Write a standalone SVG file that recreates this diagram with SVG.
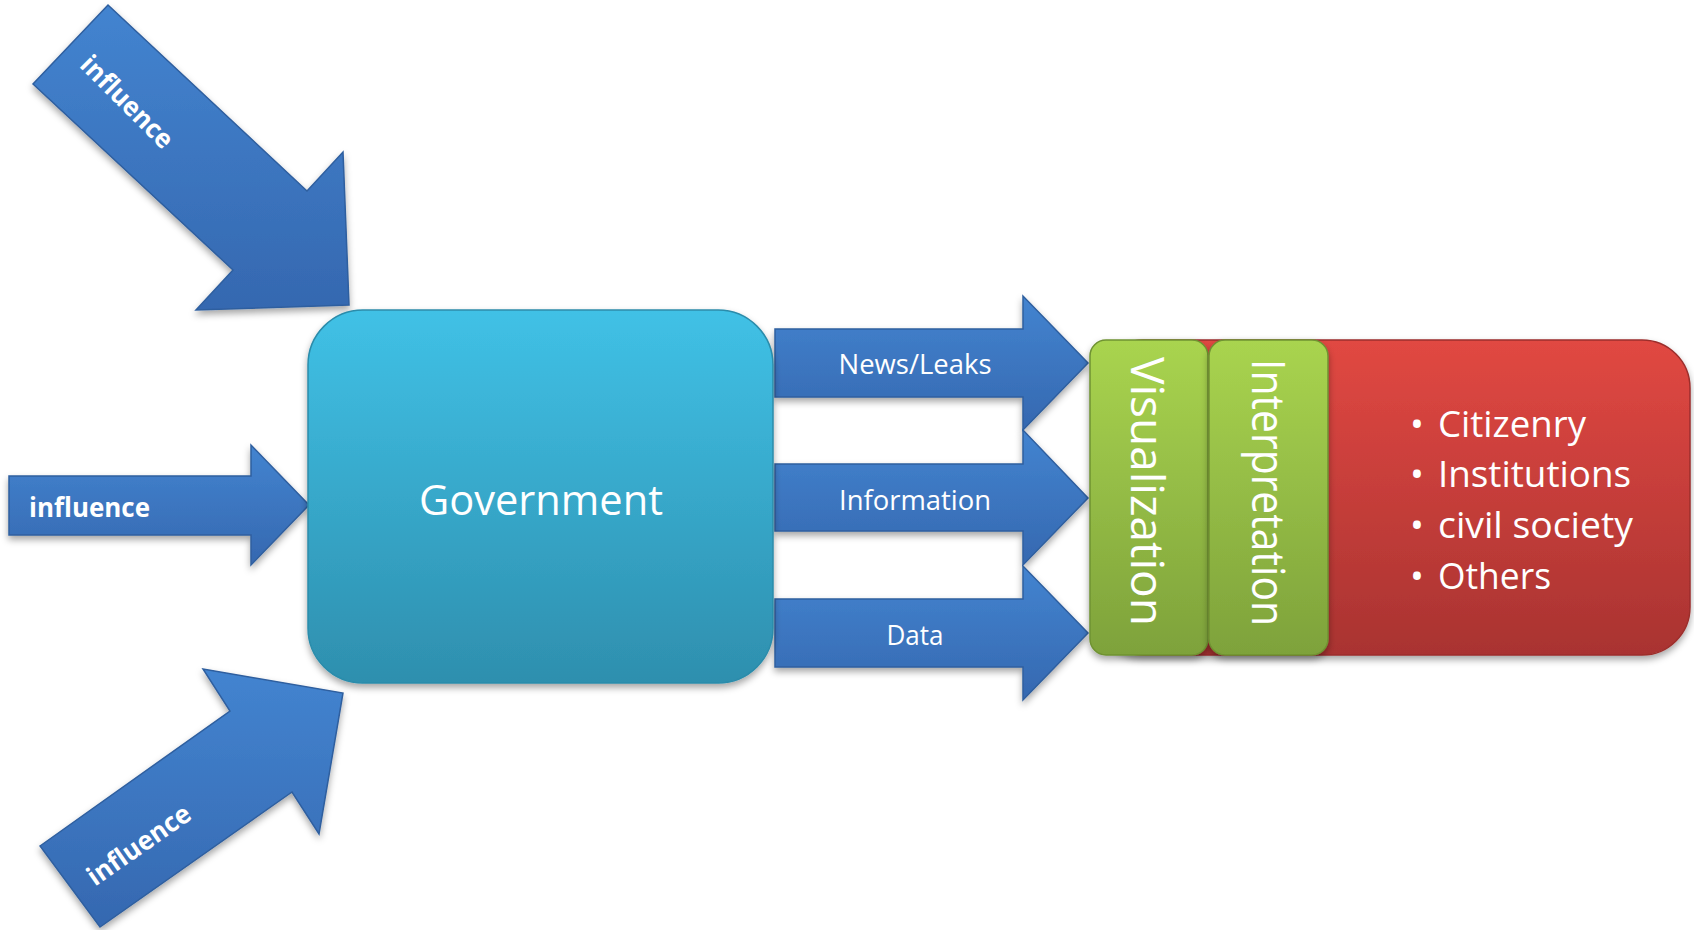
<svg xmlns="http://www.w3.org/2000/svg" width="1694" height="930" viewBox="0 0 1694 930">
<defs>
<linearGradient id="gBlue" x1="0" y1="0" x2="0" y2="1">
<stop offset="0" stop-color="#4384d0"/>
<stop offset="1" stop-color="#3568b0"/>
</linearGradient>
<linearGradient id="gCyan" x1="0" y1="0" x2="0" y2="1">
<stop offset="0" stop-color="#40c1e6"/>
<stop offset="1" stop-color="#2e8fae"/>
</linearGradient>
<linearGradient id="gRed" x1="0" y1="0" x2="0" y2="1">
<stop offset="0" stop-color="#e14842"/>
<stop offset="1" stop-color="#a93331"/>
</linearGradient>
<linearGradient id="gGreen" x1="0" y1="0" x2="0" y2="1">
<stop offset="0" stop-color="#a9d44f"/>
<stop offset="1" stop-color="#7ea23b"/>
</linearGradient>
<filter id="shadow" x="-10%" y="-10%" width="120%" height="125%">
<feDropShadow dx="0" dy="4" stdDeviation="3.5" flood-color="#000" flood-opacity="0.35"/>
</filter>
</defs>
<style>
.arrow{fill:url(#gBlue);stroke:#2f5f9f;stroke-width:1.5;stroke-linejoin:miter;filter:url(#shadow)}
.lbl{font-family:"Open Sans","Liberation Sans",sans-serif;fill:#ffffff}
.infl{font-family:"Open Sans","Liberation Sans",sans-serif;font-weight:bold;font-size:26.5px;fill:#ffffff}
.flow{font-size:27.5px;text-anchor:middle}
.vert{font-size:45px;text-anchor:middle}
.bul{font-size:37px}
</style>
<rect width="1694" height="930" fill="#ffffff"/>
<g id="connectors">
<g id="arrow-influence-top">
<polygon class="arrow" points="108,5 307,191 343,152 349,305 196,310 233,270 33,84"/>
<text class="infl" text-anchor="middle" transform="translate(127,102) rotate(45)" x="0" y="9" textLength="119" lengthAdjust="spacingAndGlyphs">influence</text>
</g>
<g id="arrow-influence-mid">
<polygon class="arrow" points="9,476 251,476 251,445 309,505 251,565 251,535 9,535"/>
<text class="infl" x="29" y="517" textLength="121" lengthAdjust="spacingAndGlyphs">influence</text>
</g>
<g id="arrow-influence-bottom">
<polygon class="arrow" points="40,846 230,711 203,669 343,693 319,834 292,792 100,927"/>
<text class="infl" text-anchor="middle" transform="translate(139,845) rotate(-35)" x="0" y="9" textLength="120" lengthAdjust="spacingAndGlyphs">influence</text>
</g>
<g id="arrow-news">
<polygon class="arrow" points="775,329 1023,329 1023,296 1088,363 1023,430 1023,397 775,397"/>
<text class="lbl flow" x="915" y="374" textLength="153" lengthAdjust="spacingAndGlyphs">News/Leaks</text>
</g>
<g id="arrow-information">
<polygon class="arrow" points="775,464 1023,464 1023,430 1088,498 1023,565 1023,531 775,531"/>
<text class="lbl flow" x="915" y="510" textLength="152" lengthAdjust="spacingAndGlyphs">Information</text>
</g>
<g id="arrow-data">
<polygon class="arrow" points="775,599 1023,599 1023,566 1088,633 1023,700 1023,667 775,667"/>
<text class="lbl flow" x="915" y="645" textLength="57" lengthAdjust="spacingAndGlyphs">Data</text>
</g>
</g>
<g id="node-government">
<rect x="308" y="310" width="465" height="373" rx="55" ry="55" fill="url(#gCyan)" stroke="#2b8cab" stroke-width="1.5" filter="url(#shadow)"/>
<text class="lbl" x="541" y="515" font-size="42" text-anchor="middle" textLength="244" lengthAdjust="spacingAndGlyphs">Government</text>
</g>
<g id="node-audience">
<rect x="1095" y="340" width="595" height="315" rx="48" ry="48" fill="url(#gRed)" stroke="#9c2e2c" stroke-width="1.5" filter="url(#shadow)"/>
<text class="lbl bul" y="437"><tspan x="1410">•</tspan><tspan x="1438" textLength="148" lengthAdjust="spacingAndGlyphs">Citizenry</tspan></text>
<text class="lbl bul" y="487"><tspan x="1410">•</tspan><tspan x="1438" textLength="193" lengthAdjust="spacingAndGlyphs">Institutions</tspan></text>
<text class="lbl bul" y="538"><tspan x="1410">•</tspan><tspan x="1438" textLength="195" lengthAdjust="spacingAndGlyphs">civil society</tspan></text>
<text class="lbl bul" y="589"><tspan x="1410">•</tspan><tspan x="1438" textLength="113" lengthAdjust="spacingAndGlyphs">Others</tspan></text>
</g>
<g id="node-visualization">
<rect x="1090" y="340" width="118" height="315" rx="16" ry="16" fill="url(#gGreen)" stroke="#6f9232" stroke-width="1.5" filter="url(#shadow)"/>
<text class="lbl vert" transform="translate(1131,491.5) rotate(90)" x="0" y="0" textLength="269" lengthAdjust="spacingAndGlyphs">Visualization</text>
</g>
<g id="node-interpretation">
<rect x="1209" y="340" width="119" height="315" rx="16" ry="16" fill="url(#gGreen)" stroke="#6f9232" stroke-width="1.5" filter="url(#shadow)"/>
<text class="lbl vert" transform="translate(1252,492.5) rotate(90)" x="0" y="0" textLength="267" lengthAdjust="spacingAndGlyphs">Interpretation</text>
</g>
</svg>
